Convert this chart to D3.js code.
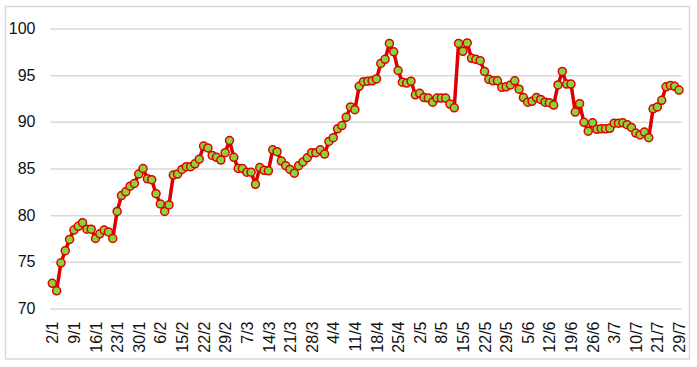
<!DOCTYPE html>
<html>
<head>
<meta charset="utf-8">
<script src="https://cdn.jsdelivr.net/npm/d3@7"></script>
<style>
  body { margin: 0; background: #fff; }
  svg { display: block; font-family: "Liberation Sans", Arial, sans-serif; }
</style>
</head>
<body>
<div id="chart"></div>
<script>
// data, one value per day
const values = [
    72.7, 71.9, 74.9, 76.2, 77.4, 78.4, 78.8, 79.2, 78.5, 78.5,
    77.5, 78.0, 78.4, 78.2, 77.5, 80.4, 82.1, 82.5, 83.1, 83.4,
    84.4, 85.0, 83.9, 83.8, 82.3, 81.2, 80.4, 81.1, 84.3, 84.4,
    84.9, 85.2, 85.2, 85.5, 86.0, 87.4, 87.2, 86.4, 86.2, 85.9,
    86.7, 88.0, 86.2, 85.0, 85.0, 84.6, 84.6, 83.3, 85.1, 84.8,
    84.75, 87.0, 86.8, 85.8, 85.3, 84.9, 84.5, 85.3, 85.7, 86.15,
    86.7, 86.7, 87.0, 86.55, 87.9, 88.3, 89.25, 89.6, 90.5, 91.6,
    91.3, 93.8, 94.3, 94.35, 94.4, 94.6, 96.25, 96.7, 98.4, 97.5,
    95.5, 94.25, 94.15, 94.35, 92.9, 93.05, 92.6, 92.55, 92.1, 92.55,
    92.55, 92.55, 91.9, 91.5, 98.4, 97.55, 98.45, 96.8, 96.7, 96.55,
    95.4, 94.55, 94.4, 94.4, 93.7, 93.75, 93.95, 94.4, 93.5, 92.6,
    92.1, 92.2, 92.6, 92.4, 92.1, 92.05, 91.8, 93.95, 95.4, 94.05,
    94.05, 91.05, 91.95, 89.95, 89.0, 89.9, 89.2, 89.25, 89.25, 89.3,
    89.85, 89.85, 89.9, 89.7, 89.4, 88.8, 88.6, 88.9, 88.3, 91.4,
    91.6, 92.3, 93.75, 93.9, 93.8, 93.4
];

// one label every fifth point
const tickLabels = [
    "2/1", "9/1", "16/1", "23/1", "30/1", "6/2", "15/2", "22/2", "29/2", "7/3",
    "14/3", "21/3", "28/3", "4/4", "11/4", "18/4", "25/4", "2/5", "8/5", "15/5",
    "22/5", "29/5", "5/6", "12/6", "19/6", "26/6", "3/7", "10/7", "21/7", "29/7"
];
const labelStep = 5;

const yTickValues = [70, 75, 80, 85, 90, 95, 100];

const width = 697;
const height = 367;

const svg = d3.select("#chart")
    .append("svg")
    .attr("width", width)
    .attr("height", height);

// outer frame
svg.append("rect")
    .attr("x", 5.5)
    .attr("y", 6.5)
    .attr("width", 684)
    .attr("height", 352.5)
    .attr("fill", "#fff")
    .attr("stroke", "#d9d9d9")
    .attr("stroke-width", 1.5);

const x = d3.scalePoint()
    .domain(d3.range(values.length))
    .range([52.3, 679]);

const y = d3.scaleLinear()
    .domain([70, 100])
    .range([308.5, 28.5]);

// gridlines + y labels
const yAxis = d3.axisLeft(y)
    .tickValues(yTickValues)
    .tickSize(-(681.5 - 50.5))
    .tickPadding(15)
    .tickFormat(d3.format("d"));

svg.append("g")
    .attr("transform", "translate(50.5,0)")
    .call(yAxis)
    .call(g => g.select(".domain").remove())
    .call(g => g.selectAll(".tick line")
        .attr("stroke", "#d9d9d9")
        .attr("stroke-width", 1.5))
    .call(g => g.selectAll(".tick text")
        .attr("fill", "#111")
        .attr("font-size", "16px"));

// x labels, rotated
const labelIdx = tickLabels.map((d, i) => i * labelStep);
const xAxis = d3.axisBottom(x)
    .tickValues(labelIdx)
    .tickSize(0)
    .tickFormat(i => tickLabels[i / labelStep]);

svg.append("g")
    .attr("transform", "translate(0,308.5)")
    .call(xAxis)
    .call(g => g.select(".domain").remove())
    .call(g => g.selectAll(".tick text")
        .attr("fill", "#111")
        .attr("font-size", "16px")
        .attr("text-anchor", "end")
        .attr("dy", "0.35em")
        .attr("transform", "translate(0,13) rotate(-90)")
        .attr("x", 0)
        .attr("y", 0));

// series
const line = d3.line()
    .x((d, i) => x(i))
    .y(d => y(d));

svg.append("path")
    .datum(values)
    .attr("fill", "none")
    .attr("stroke", "#dd0000")
    .attr("stroke-width", 3.5)
    .attr("stroke-linejoin", "round")
    .attr("d", line);

svg.append("g")
    .selectAll("circle")
    .data(values)
    .join("circle")
    .attr("cx", (d, i) => x(i))
    .attr("cy", d => y(d))
    .attr("r", 4)
    .attr("fill", "#88d43a")
    .attr("stroke", "#e00000")
    .attr("stroke-width", 1.5);
</script>
</body>
</html>
